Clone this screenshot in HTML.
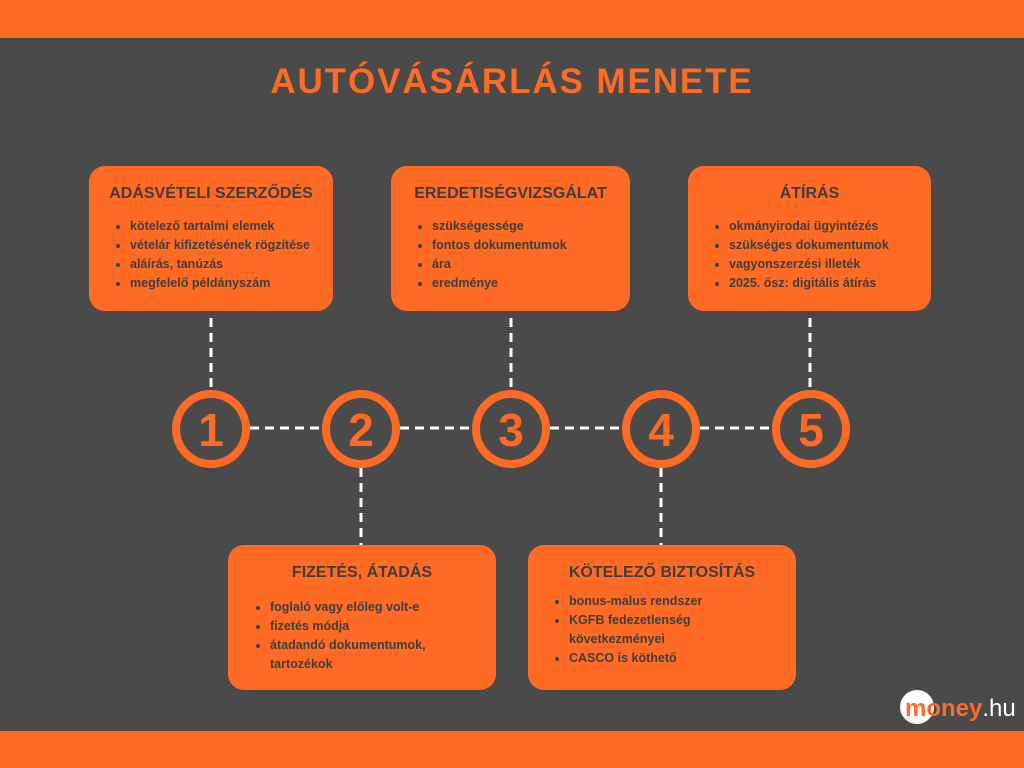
<!DOCTYPE html>
<html><head><meta charset="utf-8"><style>
body{margin:0;width:1024px;height:768px;background:#4a4a4a;position:relative;overflow:hidden;font-family:"Liberation Sans",sans-serif}
.bar{position:absolute;left:0;width:1024px;background:#ff6b24}
.box{position:absolute;background:#ff6b24;border-radius:16px;color:#3e3e3e;font-weight:bold;box-sizing:border-box}
.box h3{margin:0;text-align:center;font-size:16px;padding-top:19px}
.box ul{margin:14px 0 0 0;padding-left:41px;font-size:12.5px;line-height:19px}
.title{position:absolute;top:62px;width:1024px;text-align:center;color:#ff6b24;font-size:35px;font-weight:bold;letter-spacing:1.9px}
</style></head><body>
<div class="bar" style="top:0;height:38px"></div>
<div class="bar" style="top:731px;height:37px"></div>
<div class="title">AUTÓVÁSÁRLÁS MENETE</div>
<svg width="1024" height="768" style="position:absolute;left:0;top:0">
<g stroke="#fff" stroke-width="3" stroke-dasharray="9,6" fill="none">
<line x1="211" y1="318" x2="211" y2="390"/>
<line x1="511" y1="318" x2="511" y2="390"/>
<line x1="810" y1="318" x2="810" y2="390"/>
<line x1="361" y1="468" x2="361" y2="545"/>
<line x1="661" y1="468" x2="661" y2="545"/>
<line x1="250" y1="428" x2="772" y2="428"/>
</g>
<g fill="#4a4a4a" stroke="#ff6b24" stroke-width="8">
<circle cx="211" cy="429" r="35"/><circle cx="361" cy="429" r="35"/><circle cx="511" cy="429" r="35"/><circle cx="661" cy="429" r="35"/><circle cx="811" cy="429" r="35"/>
</g>
<g fill="#ff6b24" font-family="Liberation Sans" font-weight="bold" font-size="46" text-anchor="middle">
<text x="211" y="446">1</text><text x="361" y="446">2</text><text x="511" y="446">3</text><text x="661" y="446">4</text><text x="811" y="446">5</text>
</g>
<circle cx="917" cy="707" r="17" fill="#fff"/>
<text x="905" y="716" font-family="Liberation Sans" font-weight="bold" font-size="24" fill="#ff6b24">money<tspan fill="#fff" font-weight="normal">.hu</tspan></text>
</svg>
<div class="box" style="left:89px;top:166px;width:244px;height:145px"><h3>ADÁSVÉTELI SZERZŐDÉS</h3><ul><li>kötelező tartalmi elemek</li><li>vételár kifizetésének rögzítése</li><li>aláírás, tanúzás</li><li>megfelelő példányszám</li></ul></div>
<div class="box" style="left:391px;top:166px;width:239px;height:145px"><h3>EREDETISÉGVIZSGÁLAT</h3><ul><li>szükségessége</li><li>fontos dokumentumok</li><li>ára</li><li>eredménye</li></ul></div>
<div class="box" style="left:688px;top:166px;width:243px;height:145px"><h3>ÁTÍRÁS</h3><ul><li>okmányirodai ügyintézés</li><li>szükséges dokumentumok</li><li>vagyonszerzési illeték</li><li>2025. ősz: digitális átírás</li></ul></div>
<div class="box" style="left:228px;top:545px;width:268px;height:145px"><h3>FIZETÉS, ÁTADÁS</h3><ul style="padding-left:42px;width:175px;margin-top:16px"><li>foglaló vagy előleg volt-e</li><li>fizetés módja</li><li>átadandó dokumentumok, tartozékok</li></ul></div>
<div class="box" style="left:528px;top:545px;width:268px;height:145px"><h3>KÖTELEZŐ BIZTOSÍTÁS</h3><ul style="margin-top:10px;width:150px"><li>bonus-malus rendszer</li><li>KGFB fedezetlenség következményei</li><li>CASCO is köthető</li></ul></div>
</body></html>
